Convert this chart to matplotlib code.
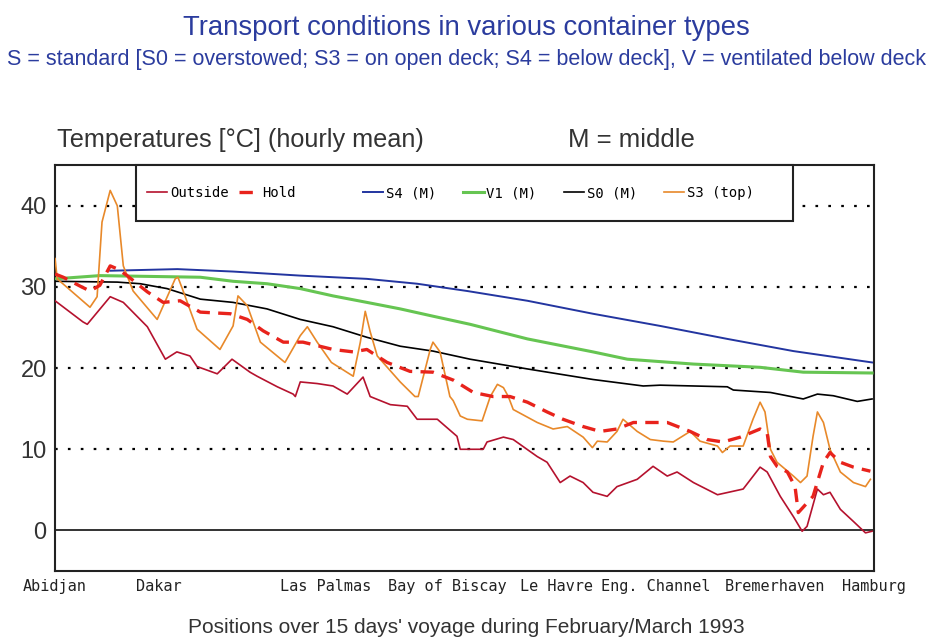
import matplotlib
import matplotlib.pyplot as plt
from matplotlib.patches import Rectangle

matplotlib.use('Agg')

# positions along the voyage (days since Abidjan) and their names
port_day = [0.0, 1.9, 4.95, 7.18, 9.18, 11.0, 13.19, 15.0]
port_name = ['Abidjan', 'Dakar', 'Las Palmas', 'Bay of Biscay', 'Le Havre',
             'Eng. Channel', 'Bremerhaven', 'Hamburg']

# hourly mean temperatures
outside_day = [0.00, 0.51, 0.59, 1.01, 1.25, 1.69, 2.02, 2.23, 2.47, 2.60, 2.97, 3.24,
               3.57, 3.70, 4.07, 4.36, 4.40, 4.49, 4.80, 5.09, 5.35, 5.64, 5.77, 6.14,
               6.45, 6.63, 7.00, 7.36, 7.42, 7.84, 7.91, 8.21, 8.39, 8.83, 9.01, 9.25,
               9.43, 9.67, 9.85, 10.11, 10.29, 10.66, 10.95, 11.21, 11.39, 11.69, 12.13,
               12.60, 12.91, 13.04, 13.28, 13.52, 13.68, 13.77, 13.96, 14.07, 14.19,
               14.38, 14.62, 14.84, 14.96]
outside_temp = [28.3, 25.7, 25.4, 28.8, 28.1, 25.1, 21.1, 22.0, 21.5, 20.2, 19.3, 21.1,
                19.5, 19.0, 17.7, 16.8, 16.5, 18.3, 18.1, 17.8, 16.8, 18.9, 16.5, 15.5,
                15.3, 13.7, 13.7, 11.6, 10.0, 10.0, 10.9, 11.5, 11.2, 9.1, 8.4, 5.9,
                6.7, 5.9, 4.7, 4.2, 5.4, 6.3, 7.9, 6.7, 7.2, 5.9, 4.4,
                5.1, 7.8, 7.2, 4.2, 1.7, -0.1, 0.5, 5.1, 4.4, 4.7,
                2.6, 1.1, -0.3, -0.1]

hold_day = [0.00, 0.15, 0.46, 0.64, 0.82, 1.01, 1.15, 1.32, 1.43, 1.69, 1.98, 2.29,
            2.66, 3.21, 3.52, 3.81, 4.18, 4.54, 5.09, 5.46, 5.71, 6.08, 6.50, 6.92,
            7.30, 7.66, 8.02, 8.33, 8.65, 9.01, 9.30, 9.67, 9.98, 10.29, 10.59, 10.90,
            11.21, 11.63, 11.94, 12.23, 12.55, 12.91, 13.04, 13.10, 13.22, 13.41, 13.55,
            13.61, 13.88, 14.07, 14.19, 14.38, 14.62, 14.93]
hold_temp = [31.6, 31.2, 30.1, 29.5, 30.2, 32.6, 32.2, 31.4, 30.8, 29.4, 28.1, 28.3,
             26.9, 26.7, 26.0, 24.6, 23.2, 23.2, 22.3, 22.0, 22.3, 20.7, 19.6, 19.5,
             18.5, 17.0, 16.5, 16.5, 15.8, 14.6, 13.7, 12.8, 12.2, 12.5, 13.3, 13.3,
             13.3, 12.2, 11.2, 10.9, 11.5, 12.5, 12.0, 9.1, 7.9, 7.2, 5.4,
             2.2, 4.2, 8.4, 9.6, 8.4, 7.8, 7.3]

s4_day = [1.01, 2.24, 3.26, 4.49, 5.71, 6.63, 7.55, 8.65, 9.85, 11.08, 12.31, 13.52, 14.96]
s4_temp = [32.0, 32.2, 31.9, 31.4, 31.0, 30.4, 29.5, 28.3, 26.7, 25.2, 23.6, 22.1, 20.7]

v1_day = [0.00, 0.82, 2.66, 3.26, 3.88, 4.49, 5.09, 5.71, 6.32, 6.92, 7.60, 8.65,
          9.85, 10.48, 11.69, 12.91, 13.70, 14.96]
v1_temp = [31.0, 31.4, 31.2, 30.7, 30.4, 29.8, 28.9, 28.1, 27.3, 26.4, 25.4, 23.6,
           22.0, 21.1, 20.5, 20.1, 19.5, 19.4]

s0_day = [0.00, 1.14, 1.56, 2.05, 2.66, 3.26, 3.88, 4.49, 5.09, 5.71, 6.32, 6.92,
          7.60, 8.65, 9.85, 10.77, 11.08, 12.31, 12.42, 13.10, 13.70, 13.96, 14.25,
          14.69, 14.96]
s0_temp = [30.7, 30.6, 30.4, 29.8, 28.5, 28.1, 27.3, 26.0, 25.1, 23.8, 22.7, 22.1,
           21.1, 19.9, 18.6, 17.8, 17.9, 17.7, 17.3, 17.0, 16.2, 16.8, 16.6,
           15.9, 16.2]

s3_day = [0.00, 0.04, 0.64, 0.77, 0.86, 1.01, 1.14, 1.25, 1.43, 1.87, 2.20, 2.25, 2.33,
          2.60, 3.02, 3.26, 3.35, 3.52, 3.76, 4.21, 4.49, 4.62, 4.80, 5.06, 5.46, 5.59,
          5.68, 5.77, 5.90, 6.32, 6.59, 6.65, 6.87, 6.92, 7.05, 7.23, 7.29, 7.42, 7.55,
          7.82, 7.97, 8.10, 8.21, 8.30, 8.39, 8.83, 9.12, 9.38, 9.67, 9.84, 9.93, 10.11,
          10.29, 10.40, 10.66, 10.90, 11.14, 11.32, 11.63, 11.81, 12.13, 12.22, 12.36,
          12.60, 12.78, 12.91, 13.00, 13.10, 13.22, 13.52, 13.65, 13.77, 13.88, 13.96,
          14.07, 14.19, 14.38, 14.62, 14.84, 14.93]
s3_temp = [33.5, 31.0, 27.5, 28.8, 38.0, 41.9, 40.0, 32.6, 29.5, 26.0, 31.0, 31.2, 29.8,
           24.8, 22.3, 25.2, 28.9, 27.7, 23.2, 20.7, 24.0, 25.1, 23.2, 20.7, 19.0, 23.2,
           27.0, 24.5, 21.5, 18.3, 16.5, 16.5, 22.3, 23.2, 22.0, 16.5, 16.0, 14.1, 13.7,
           13.5, 16.5, 18.0, 17.6, 16.5, 14.9, 13.3, 12.5, 12.8, 11.5, 10.2, 11.0, 10.9,
           12.2, 13.7, 12.2, 11.2, 11.0, 10.9, 12.2, 11.0, 10.4, 9.6, 10.4,
           10.4, 13.7, 15.8, 14.6, 10.0, 8.4, 6.7, 5.9, 6.7, 11.6, 14.6,
           13.3, 10.0, 7.2, 5.9, 5.4, 6.3]

y_ticks = [0, 10, 20, 30, 40]

title_blue = '#2b3c9e'
sans = ['Liberation Sans', 'DejaVu Sans']

fig = plt.figure(figsize=(9.33, 6.38), dpi=100)
ax = fig.add_axes([0.059, 0.105, 0.878, 0.636])

for y in y_ticks[1:]:
    ax.axhline(y, color='black', linestyle=(0, (1.2, 4.6)), linewidth=1.6, zorder=1)
ax.axhline(0, color='#222222', linewidth=1.3, zorder=1)

l_out, = ax.plot(outside_day, outside_temp, color='#b5122e', linewidth=1.2, label='Outside', zorder=3)
l_hold, = ax.plot(hold_day, hold_temp, color='#e8231c', linewidth=2.4, linestyle=(0, (4, 2.5)),
                  label='Hold', zorder=4)
l_s4, = ax.plot(s4_day, s4_temp, color='#2335a0', linewidth=1.4, label='S4 (M)', zorder=3)
l_v1, = ax.plot(v1_day, v1_temp, color='#66c552', linewidth=2.2, label='V1 (M)', zorder=3)
l_s0, = ax.plot(s0_day, s0_temp, color='black', linewidth=1.2, label='S0 (M)', zorder=3)
l_s3, = ax.plot(s3_day, s3_temp, color='#e8892a', linewidth=1.2, label='S3 (top)', zorder=3)

ax.set_xlim(0, 15)
ax.set_ylim(-5, 45)
ax.set_yticks(y_ticks)
ax.set_yticklabels([str(v) for v in y_ticks], fontsize=17, color='#333333', family=sans)
ax.set_xticks(port_day)
ax.set_xticklabels(port_name, fontsize=11, color='#222222', family='DejaVu Sans Mono')
ax.tick_params(axis='y', length=0, pad=6)
ax.tick_params(axis='x', length=0, pad=6)
for s in ax.spines.values():
    s.set_linewidth(1.5)
    s.set_color('#222222')

# legend box hanging from the top edge of the plot
ax.add_patch(Rectangle((0.099, 0.862), 0.802, 0.138, transform=ax.transAxes,
                       facecolor='white', edgecolor='#222222', linewidth=1.5,
                       zorder=9, clip_on=False))
leg_font = {'family': 'DejaVu Sans Mono', 'size': 10}
leg1 = ax.legend(handles=[l_out, l_hold], ncol=2, loc='center left',
                 bbox_to_anchor=(0.1123, 0.931), frameon=False, handlelength=1.45,
                 handletextpad=0.2, columnspacing=0.75, borderpad=0, borderaxespad=0,
                 prop=leg_font)
leg1.set_zorder(10)
ax.add_artist(leg1)
leg2 = ax.legend(handles=[l_s4, l_v1, l_s0, l_s3], ncol=4, loc='center left',
                 bbox_to_anchor=(0.3761, 0.931), frameon=False, handlelength=1.45,
                 handletextpad=0.2, columnspacing=1.95, borderpad=0, borderaxespad=0,
                 prop=leg_font)
leg2.set_zorder(10)

fig.text(0.5, 0.945, 'Transport conditions in various container types',
         ha='center', va='baseline', fontsize=19.8, color=title_blue, family=sans)
fig.text(0.5, 0.898, 'S = standard [S0 = overstowed; S3 = on open deck; S4 = below deck], '
         'V = ventilated below deck', ha='center', va='baseline', fontsize=15.5,
         color=title_blue, family=sans)
fig.text(0.061, 0.770, 'Temperatures [°C] (hourly mean)', ha='left', va='baseline',
         fontsize=18.2, color='#333333', family=sans)
fig.text(0.609, 0.770, 'M = middle', ha='left', va='baseline',
         fontsize=18.5, color='#333333', family=sans)
fig.text(0.5, 0.008, "Positions over 15 days' voyage during February/March 1993",
         ha='center', va='baseline', fontsize=15, color='#333333', family=sans)

fig.savefig('out.png', dpi=100, facecolor='white')
